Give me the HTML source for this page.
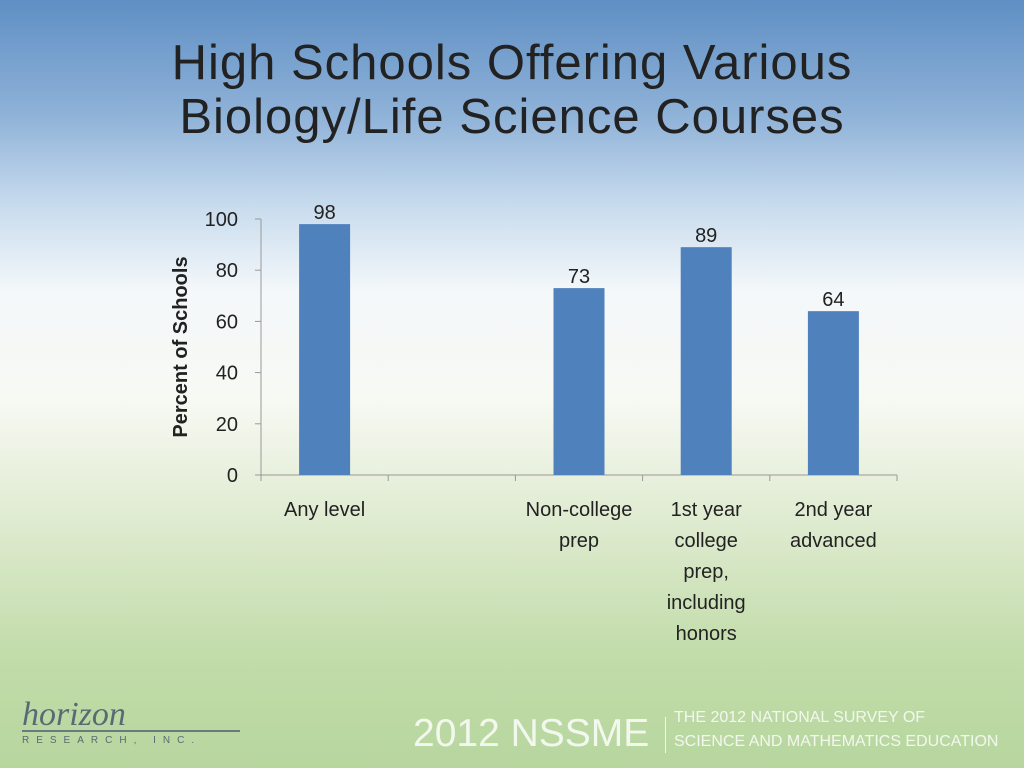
<!DOCTYPE html>
<html><head><meta charset="utf-8"><style>
body{margin:0;width:1024px;height:768px;overflow:hidden;font-family:"Liberation Sans",sans-serif}
#bg{position:absolute;left:0;top:0;width:1024px;height:768px;background:linear-gradient(to bottom,#5f8fc4 0%,#8fb2d8 15%,#c9dcee 27%,#f4f8fa 38%,#f7f9f3 52%,#dfebd0 68%,#c2dcaa 85%,#b7d69e 100%)}
.t{position:absolute;white-space:nowrap}
</style></head><body>
<div id="bg"></div>
<div class="t" style="left:0;width:1024px;top:36px;text-align:center;font-size:49px;line-height:54px;color:#222;letter-spacing:1px">High Schools Offering Various<br>Biology/Life Science Courses</div>
<svg id="c" width="1024" height="768" style="position:absolute;left:0;top:0"></svg>
<div class="t" style="left:22px;top:696px;font-family:'Liberation Serif',serif;font-style:italic;font-size:34px;color:#5a6a75">horizon</div>
<div style="position:absolute;left:22px;top:730px;width:218px;height:2px;background:#6a7a80"></div>
<div class="t" style="left:22px;top:735px;font-size:10px;letter-spacing:7px;color:#5a6a75">RESEARCH, INC.</div>
<div class="t" style="left:413px;top:712px;font-size:39px;color:#f3f8ee">2012 NSSME</div>
<div style="position:absolute;left:665px;top:717px;width:1px;height:36px;background:#f3f8ee"></div>
<div class="t" style="left:674px;top:706px;font-size:16px;line-height:24px;color:#f3f8ee">THE 2012 NATIONAL SURVEY OF<br>SCIENCE AND MATHEMATICS EDUCATION</div>
<script>
const categories=[["Any level"],[],["Non-college","prep"],["1st year","college","prep,","including","honors"],["2nd year","advanced"]];
const values=[98,null,73,89,64];
const yTicks=[0,20,40,60,80,100];
const NS="http://www.w3.org/2000/svg",svg=document.getElementById('c');
const x0=261,x1=897,y0=475,y1=219,slot=(x1-x0)/categories.length,bw=51;
const y=v=>y0-(v/100)*(y0-y1);
function mk(t,a,txt){const e=document.createElementNS(NS,t);for(const k in a)e.setAttribute(k,a[k]);if(txt!=null)e.textContent=txt;svg.appendChild(e);return e;}
let e=mk('line',{x1:x0,y1:y1,x2:x0,y2:y0,stroke:'#999'});


e=mk('line',{x1:x0,y1:y0,x2:x1,y2:y0,stroke:'#999'});


yTicks.forEach(v=>{
 e=mk('line',{x1:x0-6,y1:y(v),x2:x0,y2:y(v),stroke:'#999'});
 
 
 e=mk('text',{x:x0-23,y:y(v)+7,'text-anchor':'end','font-size':'20','fill':'#222','font-family':'Liberation Sans'},v);
 
 
});
for(let i=0;i<=categories.length;i++){
 e=mk('line',{x1:x0+i*slot,y1:y0,x2:x0+i*slot,y2:y0+6,stroke:'#999'});
 
 
}
categories.forEach((c,i)=>{
 const cx=x0+(i+0.5)*slot;
 c.forEach((l,j)=>{
  e=mk('text',{x:cx,y:516+j*31,'text-anchor':'middle','font-size':'20','fill':'#222','font-family':'Liberation Sans'},l);
  
  
 });
 const v=values[i];if(v==null)return;
 e=mk('rect',{x:cx-bw/2,y:y(v),width:bw,height:y0-y(v),fill:'#4f81bd'});
 
 
 e=mk('text',{x:cx,y:y(v)-5,'text-anchor':'middle','font-size':'20','fill':'#222','font-family':'Liberation Sans'},v);
 
 
});
e=mk('text',{x:0,y:0,transform:'translate(187,347) rotate(-90)','text-anchor':'middle','font-size':'20','font-weight':'bold','fill':'#222','font-family':'Liberation Sans'},'Percent of Schools');


</script>
</body></html>
